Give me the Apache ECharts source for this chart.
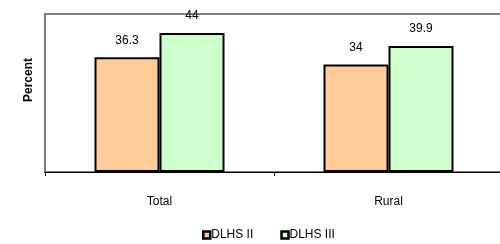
<!DOCTYPE html>
<html lang="en">
<head>
    <meta charset="UTF-8">
    <script src="https://cdn.jsdelivr.net/npm/echarts@6/dist/echarts.min.js"></script>
    <title>DLHS</title>
    <style>
        body { margin: 0; background: #fff; }
    </style>
</head>
<body>
<div id="main" style="width: 500px;height:244px;"></div>
<script type="text/javascript">
    // data
    var categories = ['Total', 'Rural'];
    var seriesNames = ['DLHS II', 'DLHS III'];
    var dlhs2 = [36.3, 34];
    var dlhs3 = [44, 39.9];

    var myChart = echarts.init(document.getElementById('main'));

    var labelStyle = {
        show: true,
        position: 'top',
        distance: 11,
        color: '#000',
        fontFamily: 'Liberation Sans',
        fontSize: 12
    };

    var option = {
        animation: false,
        textStyle: { fontFamily: 'Liberation Sans' },
        grid: {
            left: 45,
            width: 458,
            top: 14,
            height: 158,
            show: true,
            borderColor: '#808080',
            borderWidth: 2,
            containLabel: false,
            outerBoundsMode: 'none'
        },
        legend: {
            top: 224,
            left: 197,
            icon: 'rect',
            itemWidth: 7,
            itemHeight: 7,
            itemGap: 27,
            itemStyle: { borderColor: '#000', borderWidth: 2.5 },
            textStyle: { fontSize: 12, color: '#000', padding: [0, 0, 0, -4] },
            data: seriesNames
        },
        xAxis: {
            type: 'category',
            data: categories,
            axisLine: { lineStyle: { color: '#000', width: 1 } },
            axisTick: { show: true, length: 4, lineStyle: { color: '#000' } },
            axisLabel: { color: '#000', fontSize: 12, margin: 24 }
        },
        yAxis: {
            type: 'value',
            min: 0,
            max: 50,
            name: 'Percent',
            nameLocation: 'middle',
            nameRotate: 90,
            nameGap: 10,
            nameTextStyle: { fontWeight: 'bold', fontSize: 12, color: '#000', padding: [0, 0, 0, 26] },
            axisLine: { show: false },
            axisTick: { show: false },
            axisLabel: { show: false },
            splitLine: { show: false }
        },
        series: [
            {
                name: seriesNames[0],
                type: 'bar',
                data: dlhs2,
                barWidth: 65,
                barGap: '0%',
                itemStyle: { color: '#FFCC99', borderColor: '#000', borderWidth: 2 },
                label: labelStyle
            },
            {
                name: seriesNames[1],
                type: 'bar',
                data: dlhs3,
                barWidth: 65,
                itemStyle: { color: '#CCFFCC', borderColor: '#000', borderWidth: 2 },
                label: labelStyle
            }
        ]
    };

    myChart.setOption(option);
</script>
</body>
</html>
